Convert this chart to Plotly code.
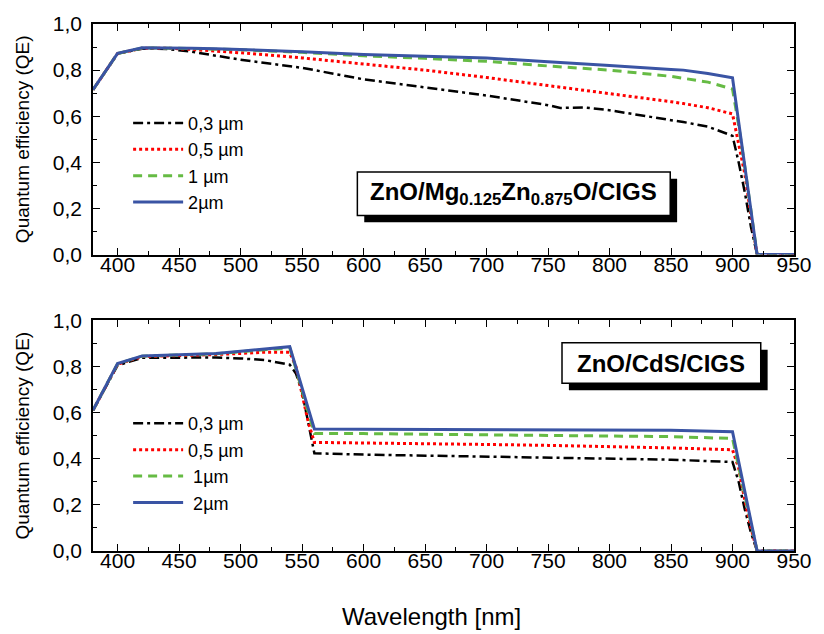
import plotly.graph_objects as go
from plotly.subplots import make_subplots

# ---------------- data ----------------
wl_top = [380, 400, 420, 440, 460, 480, 500, 550, 600, 650, 700, 750, 760, 780,
          800, 850, 860, 880, 900, 905, 910, 915, 920, 950]
top_03 = [0.715, 0.872, 0.893, 0.892, 0.880, 0.862, 0.845, 0.810, 0.760, 0.725, 0.690,
          0.648, 0.636, 0.638, 0.626, 0.583, 0.575, 0.555, 0.515, 0.400, 0.270, 0.120, 0.0, 0.0]
top_05 = [0.715, 0.872, 0.895, 0.895, 0.890, 0.883, 0.875, 0.853, 0.826, 0.800, 0.768,
          0.733, 0.727, 0.715, 0.700, 0.663, 0.655, 0.637, 0.610, 0.480, 0.350, 0.170, 0.0, 0.0]
top_1 = [0.715, 0.872, 0.896, 0.896, 0.894, 0.891, 0.888, 0.877, 0.862, 0.851, 0.838,
         0.818, 0.815, 0.808, 0.800, 0.773, 0.765, 0.748, 0.718, 0.560, 0.380, 0.190, 0.0, 0.0]
top_2 = [0.715, 0.873, 0.897, 0.897, 0.895, 0.893, 0.890, 0.880, 0.868, 0.862, 0.853,
         0.836, 0.833, 0.828, 0.820, 0.803, 0.800, 0.785, 0.767, 0.575, 0.383, 0.190, 0.0, 0.0]

wl_bot = [380, 400, 420, 450, 480, 500, 520, 540, 545, 550, 555, 560,
          600, 650, 700, 750, 800, 850, 900, 905, 910, 915, 920, 950]
bot_03 = [0.610, 0.805, 0.838, 0.838, 0.839, 0.835, 0.828, 0.808, 0.770, 0.690, 0.550, 0.424,
          0.418, 0.413, 0.408, 0.404, 0.400, 0.396, 0.386, 0.300, 0.180, 0.080, 0.0, 0.0]
bot_05 = [0.610, 0.810, 0.843, 0.847, 0.852, 0.857, 0.862, 0.862, 0.800, 0.680, 0.560, 0.471,
          0.469, 0.466, 0.462, 0.458, 0.453, 0.447, 0.439, 0.360, 0.220, 0.100, 0.0, 0.0]
bot_1 = [0.610, 0.812, 0.845, 0.849, 0.855, 0.864, 0.874, 0.881, 0.790, 0.700, 0.600, 0.510,
         0.509, 0.507, 0.505, 0.503, 0.500, 0.496, 0.488, 0.370, 0.245, 0.120, 0.0, 0.0]
bot_2 = [0.610, 0.813, 0.846, 0.850, 0.856, 0.866, 0.877, 0.886, 0.797, 0.707, 0.618, 0.529,
         0.528, 0.527, 0.527, 0.526, 0.525, 0.524, 0.517, 0.388, 0.259, 0.129, 0.0, 0.0]

names_top = ["0,3 µm", "0,5 µm", "1 µm", "2µm"]
names_bot = ["0,3 µm", "0,5 µm", "\u00a01µm", "\u00a02µm"]

x_tickvals = [400, 450, 500, 550, 600, 650, 700, 750, 800, 850, 900, 950]
x_ticktext = ["400", "450", "500", "550", "600", "650", "700", "750", "800", "850", "900", "950"]
x_minorvals = [425, 475, 525, 575, 625, 675, 725, 775, 825, 875, 925]
y_tickvals = [0.0, 0.2, 0.4, 0.6, 0.8, 1.0]
y_ticktext = ["0,0", "0,2", "0,4", "0,6", "0,8", "1,0"]
y_minorvals = [0.1, 0.3, 0.5, 0.7, 0.9]

label_top = "ZnO/Mg<sub>0.125</sub>Zn<sub>0.875</sub>O/CIGS"
label_bot = "ZnO/CdS/CIGS"

# ---------------- styles ----------------
styles = [
    dict(color="#000000", width=2.5, dash="10px,4px,3px,4px"),
    dict(color="#ff0000", width=3, dash="3px,3px"),
    dict(color="#66bb44", width=3, dash="9px,6px"),
    dict(color="#3a54a4", width=3, dash="solid"),
]

W, H = 824, 634
L, R, T, B = 93.3, 18.2, 17.3, 83.3
plot_h = H - T - B
panel_h = 233.4

fig = make_subplots(rows=2, cols=1, vertical_spacing=(plot_h - 2 * panel_h) / plot_h)

for ys, nm, st in zip([top_03, top_05, top_1, top_2], names_top, styles):
    fig.add_trace(go.Scatter(x=wl_top, y=ys, name=nm, mode="lines", line=st,
                             legend="legend"), row=1, col=1)
for ys, nm, st in zip([bot_03, bot_05, bot_1, bot_2], names_bot, styles):
    fig.add_trace(go.Scatter(x=wl_bot, y=ys, name=nm, mode="lines", line=st,
                             legend="legend2"), row=2, col=1)

font_fam = "Liberation Sans, Arial, sans-serif"
axis_common = dict(showline=True, linecolor="black", linewidth=1.5, mirror="ticks",
                   ticks="inside", ticklen=7, tickwidth=1.3, tickcolor="black",
                   showgrid=False, zeroline=False,
                   tickfont=dict(family=font_fam, size=21, color="black"))
for r in (1, 2):
    fig.update_xaxes(range=[380, 950], tickmode="array", tickvals=x_tickvals,
                     ticktext=x_ticktext, ticklabelstandoff=-10,
                     minor=dict(tickmode="array", tickvals=x_minorvals, ticks="inside",
                                ticklen=4, tickwidth=1.2, tickcolor="black"),
                     row=r, col=1, **axis_common)
    fig.update_yaxes(range=[0, 1.0], tickmode="array", tickvals=y_tickvals,
                     ticktext=y_ticktext, ticklabelstandoff=5,
                     minor=dict(tickmode="array", tickvals=y_minorvals, ticks="inside",
                                ticklen=4, tickwidth=1.2, tickcolor="black"),
                     title=dict(text="Quantum efficiency (QE)", standoff=18,
                                font=dict(family=font_fam, size=19, color="black")),
                     row=r, col=1, **axis_common)


def px_x(p):
    return (p - L) / (W - L - R)


def px_y(p):
    return (H - B - p) / plot_h


shapes = []
annotations = []
for (x0, y0, x1, y1, txt) in [(362, 167, 680, 211, label_top), (570, 340, 772, 381, label_bot)]:
    off = 7
    shapes.append(dict(type="rect", xref="paper", yref="paper",
                       x0=px_x(x0 + off), x1=px_x(x1 + off), y0=px_y(y1 + off), y1=px_y(y0 + off),
                       fillcolor="black", line=dict(width=0), layer="above"))
    shapes.append(dict(type="rect", xref="paper", yref="paper",
                       x0=px_x(x0), x1=px_x(x1), y0=px_y(y1), y1=px_y(y0),
                       fillcolor="white", line=dict(color="black", width=1.5), layer="above"))
    annotations.append(dict(text="<b>" + txt + "</b>", xref="paper", yref="paper",
                            x=px_x((x0 + x1) / 2), y=px_y((y0 + y1) / 2),
                            xanchor="center", yanchor="middle", showarrow=False,
                            font=dict(family=font_fam, size=24, color="black")))

annotations.append(dict(text="Wavelength [nm]", xref="paper", yref="paper",
                        x=px_x(437), y=px_y(617), xanchor="center", yanchor="middle",
                        showarrow=False, font=dict(family=font_fam, size=24, color="black")))

legend_common = dict(bgcolor="rgba(0,0,0,0)", borderwidth=0, xanchor="left", yanchor="top",
                     font=dict(family=font_fam, size=18, color="black"),
                     tracegroupgap=0, itemclick=False, itemwidth=50)

fig.update_layout(
    width=W, height=H,
    margin=dict(l=L, r=R, t=T, b=B),
    paper_bgcolor="white", plot_bgcolor="white",
    font=dict(family=font_fam, color="black"),
    shapes=shapes, annotations=annotations,
    legend=dict(x=px_x(129), y=px_y(99), **legend_common),
    legend2=dict(x=px_x(129), y=px_y(403), **legend_common),
    showlegend=True,
)

fig.write_html("out.html")
